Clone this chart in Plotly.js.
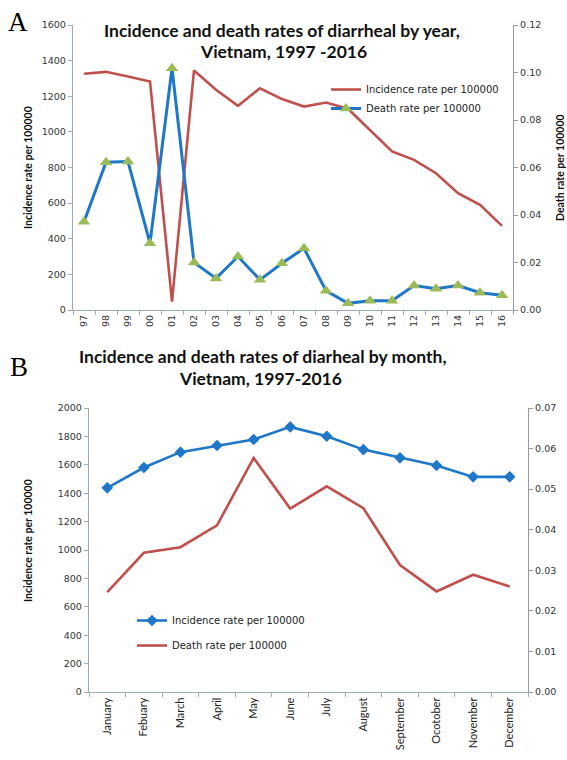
<!DOCTYPE html>
<html>
<head>
<meta charset="utf-8">
<script src="https://cdn.plot.ly/plotly-3.0.1.min.js"></script>
<style>html,body{margin:0;padding:0;background:#fff;}#chart{width:567px;height:760px;}</style>
</head>
<body>
<div id="chart"></div>
<script>
// ---- Data ----
const years = ['97','98','99','00','01','02','03','04','05','06','07','08','09','10','11','12','13','14','15','16'];
const incidenceYear = [1326,1337,1311,1283,47,1345,1236,1146,1245,1184,1142,1165,1130,1011,890,843,768,656,590,472];
const deathYear = [0.0372,0.0622,0.0625,0.0281,0.1018,0.0200,0.0133,0.0225,0.0127,0.0197,0.0260,0.0081,0.0028,0.0039,0.0039,0.0103,0.0090,0.0103,0.0073,0.0062];

const months = ['January','Febuary','March','April','May','June','July','August','September','Ocotober','November','December'];
const incidenceMonth = [1438,1581,1689,1736,1778,1867,1801,1707,1649,1595,1515,1515];
const deathMonth = [0.0246,0.0343,0.0357,0.0411,0.0577,0.0452,0.0507,0.0453,0.0313,0.0248,0.0289,0.0260];

const titleA1 = 'Incidence and death rates of diarrheal by year,';
const titleA2 = 'Vietnam, 1997 -2016';
const titleB1 = 'Incidence and death rates of diarheal by month,';
const titleB2 = 'Vietnam, 1997-2016';
const incLabel = 'Incidence rate per 100000';
const deathLabel = 'Death rate per 100000';

// ---- Styles ----
const RED = '#C0504D', BLUE = '#1F77C9', GREEN = '#9BBB59';
const W = 567, H = 760;
const px = v => v / W;
const py = v => 1 - v / H;
const axisColor = '#9AABBC';
const tickFont = {family: 'DejaVu Sans', size: 9.5, color: '#333'};
const boldFont = {family: 'Lato', size: 10.5, color: '#111', weight: 'bold'};
const titleFont = {family: 'Lato', size: 17.5, color: '#111', weight: 'bold'};

const traces = [
  {x: years, y: incidenceYear, name: incLabel, type: 'scatter', mode: 'lines',
   line: {color: RED, width: 2.6}, xaxis: 'x', yaxis: 'y', legend: 'legend'},
  {x: years, y: deathYear, name: deathLabel, type: 'scatter', mode: 'lines+markers',
   line: {color: BLUE, width: 3}, marker: {symbol: 'triangle-up', size: 11, color: GREEN},
   xaxis: 'x', yaxis: 'y2', legend: 'legend'},
  {x: months, y: incidenceMonth, name: incLabel, type: 'scatter', mode: 'lines+markers',
   line: {color: BLUE, width: 2.6}, marker: {symbol: 'diamond', size: 9, color: BLUE},
   xaxis: 'x2', yaxis: 'y3', legend: 'legend2', legendgroup: 'a'},
  {x: months, y: deathMonth, name: deathLabel, type: 'scatter', mode: 'lines',
   line: {color: RED, width: 2.6}, xaxis: 'x2', yaxis: 'y4', legend: 'legend2', legendgroup: 'b'}
];

const baseY = {showgrid: false, zeroline: false, showline: true, linecolor: axisColor, linewidth: 1.2,
  ticks: 'outside', ticklen: 4, tickcolor: axisColor, tickfont: tickFont};
const baseX = {type: 'category', showgrid: false, zeroline: false, showline: true, linecolor: axisColor, linewidth: 1.2,
  ticks: 'outside', ticklen: 4, tickcolor: axisColor, tickson: 'boundaries', tickangle: -90};

function note(text, x, y, font, extra) {
  return Object.assign({text: text, x: px(x), y: py(y), xref: 'paper', yref: 'paper', showarrow: false,
    xanchor: 'center', yanchor: 'middle', font: font}, extra || {});
}

const layout = {
  width: W, height: H,
  margin: {l: 0, r: 0, t: 0, b: 0},
  paper_bgcolor: '#fff', plot_bgcolor: '#fff',
  xaxis: Object.assign({}, baseX, {domain: [px(73), px(513)], anchor: 'y', range: [-0.5, 19.5],
    tickfont: {family: 'DejaVu Sans', size: 9.5, color: '#333'}}),
  yaxis: Object.assign({}, baseY, {domain: [py(310), py(25)], anchor: 'x', range: [0, 1600], dtick: 200}),
  yaxis2: Object.assign({}, baseY, {overlaying: 'y', side: 'right', anchor: 'x', range: [0, 0.12], dtick: 0.02,
    tickformat: '.2f', linecolor: '#999', tickcolor: '#999'}),
  xaxis2: Object.assign({}, baseX, {domain: [px(89), px(528)], anchor: 'y3', range: [-0.5, 11.5],
    tickfont: {family: 'Lato', size: 11, color: '#222'}}),
  yaxis3: Object.assign({}, baseY, {domain: [py(692), py(408)], anchor: 'x2', range: [0, 2000], dtick: 200}),
  yaxis4: Object.assign({}, baseY, {overlaying: 'y3', side: 'right', anchor: 'x2', range: [0, 0.07], dtick: 0.01,
    tickformat: '.2f', linecolor: '#999', tickcolor: '#999'}),
  legend: {x: px(326), y: py(75), xanchor: 'left', yanchor: 'top', bgcolor: 'rgba(0,0,0,0)',
    font: {family: 'DejaVu Sans', size: 10, color: '#222'}, itemwidth: 30, tracegroupgap: 0},
  legend2: {x: px(132), y: py(606), xanchor: 'left', yanchor: 'top', bgcolor: 'rgba(0,0,0,0)',
    font: {family: 'DejaVu Sans', size: 10, color: '#222'}, itemwidth: 30, traceorder: 'grouped', tracegroupgap: 6},
  annotations: [
    note('A', 18, 22, {family: 'Liberation Serif', size: 27, color: '#000'}),
    note('B', 19, 367, {family: 'Liberation Serif', size: 27, color: '#000'}),
    note(titleA1, 282, 30, titleFont),
    note(titleA2, 283, 52, titleFont),
    note(titleB1, 263, 356, titleFont),
    note(titleB2, 260, 378, titleFont),
    note(incLabel, 28, 168, boldFont, {textangle: -90}),
    note(deathLabel, 560, 168, boldFont, {textangle: -90}),
    note(incLabel, 28, 541, boldFont, {textangle: -90})
  ]
};

Plotly.newPlot('chart', traces, layout, {displayModeBar: false, staticPlot: true});
</script>
</body>
</html>
